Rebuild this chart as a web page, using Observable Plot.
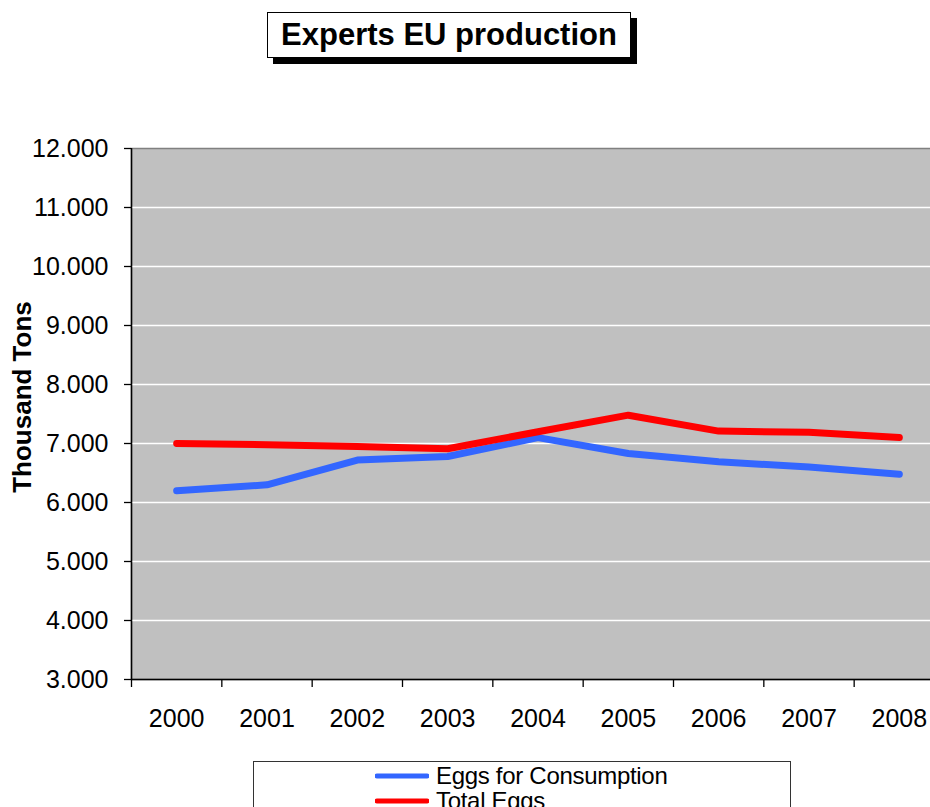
<!DOCTYPE html>
<html>
<head>
<meta charset="utf-8">
<script src="https://cdn.jsdelivr.net/npm/d3@7"></script>
<script src="https://cdn.jsdelivr.net/npm/@observablehq/plot@0.6"></script>
<style>
  html, body { margin: 0; padding: 0; background: #fff; }
  #page {
    position: relative; width: 930px; height: 807px; overflow: hidden;
    font-family: "Liberation Sans", Arial, sans-serif; background: #fff;
  }
  #title {
    position: absolute; left: 267px; top: 12px; width: 362px; height: 44px;
    border: 1px solid #000; background: #fff; box-shadow: 6px 6px 0 #000;
    font-weight: bold; font-size: 31px; line-height: 44px; text-align: center;
    color: #000; box-sizing: content-box;
  }
  #chart { position: absolute; left: 0; top: 0; width: 960px; }
  #legend {
    position: absolute; left: 253px; top: 761px; width: 536px; height: 70px;
    border: 1.5px solid #333; background: #fff;
  }
  .item {
    position: absolute; left: 121px; height: 24px; display: flex; align-items: center;
    font-size: 24px; color: #000; white-space: nowrap; letter-spacing: -0.3px;
  }
  .item svg { margin-right: 7px; }
</style>
</head>
<body>
<div id="page">
  <div id="chart"></div>
  <div id="title"></div>
  <div id="legend"></div>
</div>
<script>
// Annual EU egg production, thousand tons
const years = [2000, 2001, 2002, 2003, 2004, 2005, 2006, 2007, 2008];
const eggsForConsumption = [6200, 6300, 6720, 6780, 7100, 6830, 6690, 6600, 6480];
const totalEggs = [7000, 6980, 6950, 6910, 7200, 7480, 7210, 7190, 7100];
const seriesNames = ["Eggs for Consumption", "Total Eggs"];
const seriesColors = ["#3366FF", "#FF0000"];
const yTicks = [3000, 4000, 5000, 6000, 7000, 8000, 9000, 10000, 11000, 12000];
const chartTitle = "Experts EU production";
const yTitle = "Thousand Tons";

// long-format rows for the line mark
const rows = [];
[eggsForConsumption, totalEggs].forEach((values, s) => {
  values.forEach((v, i) => rows.push({ series: seriesNames[s], year: years[i], value: v }));
});

// each year occupies a category slot; ticks sit on the slot boundaries
const xDomain = [years[0] - 0.5, years[years.length - 1] + 0.5];
const boundaries = years.map(y => y - 0.5);
const fmt = d => d3.format(",")(d).replace(/,/g, ".");

const chart = Plot.plot({
  width: 960,
  height: 807,
  marginTop: 148,
  marginBottom: 128,
  marginLeft: 131,
  marginRight: 16,
  style: { fontFamily: "'Liberation Sans', Arial, sans-serif", fontSize: "25px", color: "#000", background: "transparent", overflow: "visible", maxWidth: "none" },
  x: { type: "linear", domain: xDomain },
  y: { domain: [yTicks[0], yTicks[yTicks.length - 1]] },
  color: { domain: seriesNames, range: seriesColors },
  marks: [
    Plot.frame({ fill: "#C0C0C0", stroke: "#808080", strokeWidth: 1.5 }),
    Plot.ruleY(yTicks.slice(1, -1), { stroke: "#ffffff", strokeWidth: 1.4 }),
    Plot.line(rows, {
      x: "year", y: "value", z: "series", stroke: "series",
      strokeWidth: 7, strokeLinecap: "round", strokeLinejoin: "round"
    }),
    Plot.ruleX([xDomain[0]], { stroke: "#000", strokeWidth: 1.5 }),
    Plot.ruleY([yTicks[0]], { stroke: "#000", strokeWidth: 1.5 }),
    Plot.axisY({ ticks: yTicks, tickFormat: fmt, tickSize: 7, tickPadding: 16, label: null, stroke: "#000", strokeWidth: 1.3 }),
    Plot.axisX({ ticks: boundaries, tickFormat: () => "", tickSize: 8, label: null, stroke: "#000", strokeWidth: 1.3 }),
    Plot.axisX({ ticks: years, tickFormat: d => String(d), tickSize: 0, tickPadding: 30, label: null }),
    Plot.text([yTitle], {
      frameAnchor: "left", textAnchor: "middle", text: d => d, rotate: -90, dx: -109, dy: -17,
      fontWeight: "bold", fontSize: 26, fill: "#000"
    })
  ]
});
chart.style.maxWidth = "none";
document.getElementById("chart").appendChild(chart);

document.getElementById("title").textContent = chartTitle;

// legend entries, one per series
const legend = document.getElementById("legend");
seriesNames.forEach((name, i) => {
  const item = document.createElement("div");
  item.className = "item";
  item.style.top = (2 + i * 25) + "px";
  item.innerHTML = `<svg width="54" height="8"><line x1="2" x2="52" y1="4" y2="4" stroke="${seriesColors[i]}" stroke-width="5" stroke-linecap="round"/></svg><span></span>`;
  item.querySelector("span").textContent = name;
  legend.appendChild(item);
});
</script>
</body>
</html>
